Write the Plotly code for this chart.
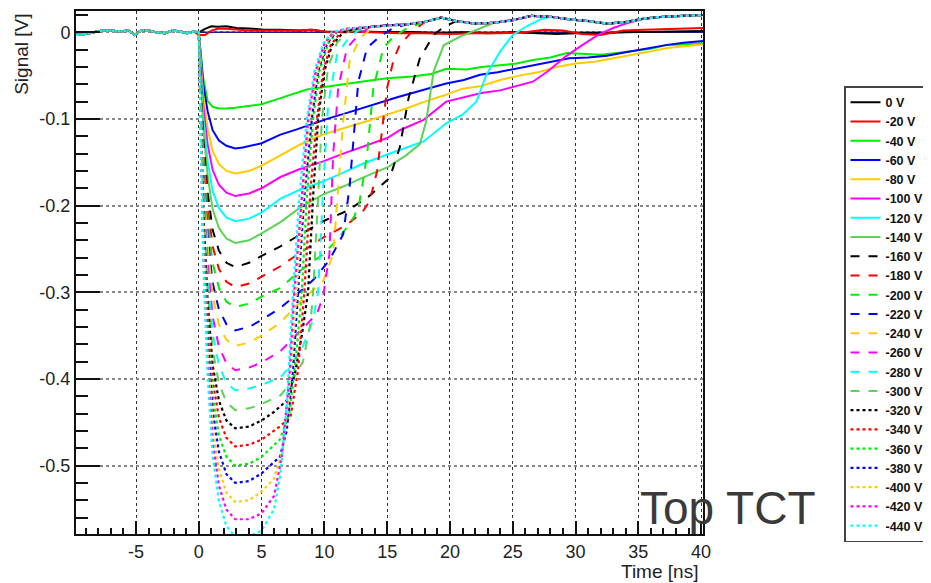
import plotly.graph_objects as go

# ---------------- data ----------------
LABELS = ["0 V", "-20 V", "-40 V", "-60 V", "-80 V", "-100 V", "-120 V", "-140 V",
          "-160 V", "-180 V", "-200 V", "-220 V", "-240 V", "-260 V", "-280 V", "-300 V",
          "-320 V", "-340 V", "-360 V", "-380 V", "-400 V", "-420 V", "-440 V"]

# common pre-trigger baseline
BASE_T = [-9.78, -9.1, -8.4, -7.7, -7.0, -6.3, -5.6, -5.1, -4.6, -4.0, -3.4, -2.7, -2.1, -1.5, -0.9, -0.4]
BASE_V = [-0.003, -0.002, 0.000, 0.002, 0.002, 0.001, 0.002, -0.003, 0.002, 0.002, 0.000, -0.001, 0.002, 0.001, -0.001, 0.001]

# common post-collection plateau of the fully depleted curves
TAIL_T = [12.0, 13.5, 15.0, 16.5, 18.0, 19.3, 20.5, 22.0, 23.5, 25.0, 26.5, 28.0, 29.5, 31.0, 32.5, 34.0, 35.5, 37.0, 38.5, 40.15]
TAIL_V = [0.004, 0.006, 0.008, 0.009, 0.012, 0.017, 0.013, 0.010, 0.011, 0.014, 0.019, 0.018, 0.015, 0.013, 0.010, 0.012, 0.016, 0.018, 0.019, 0.020]

# zero reference line
REF_T = [0.0, 40.15]
REF_V = [0.0, 0.0]

T_0 = [0, 0.5, 1.0, 1.5, 2.2, 3.0, 4.0, 5.2, 6.5, 8.0, 9.0, 10.0, 11.6, 13, 15, 17, 19, 21, 23, 25, 27, 28.5, 30, 32, 34, 36, 38, 40.15]
V_0 = [0.0, 0.004, 0.007, 0.0065, 0.007, 0.005, 0.0045, 0.003, 0.003, 0.002, 0.003, 0.001, 0.0, 0.001, 0.0, 0.0005, -0.001, 0.0, -0.001, 0.0, -0.001, -0.002, -0.001, -0.001, 0.0, 0.0005, 0.001, 0.0015]

T_M20 = [0, 0.5, 1.0, 1.5, 2.2, 3.0, 4.0, 5.8, 7.5, 9.0, 10.4, 12, 14, 16, 18, 20, 22, 24, 26, 27.5, 29, 30.5, 32, 33.8, 35.5, 37.5, 40.15]
V_M20 = [-0.003, -0.003, 0.002, 0.004, 0.004, 0.003, 0.002, 0.002, 0.002, 0.003, 0.0, 0.001, 0.0, -0.001, -0.001, -0.002, -0.001, -0.001, 0.0, 0.003, 0.002, -0.002, -0.003, 0.002, 0.003, 0.004, 0.005]

T_M40 = [0, 0.15, 0.35, 0.7, 1.1, 1.6, 2.2, 2.9, 4.0, 5.0, 6.5, 8.6, 10.0, 11.8, 13.5, 15.0, 17.0, 18.5, 19.7, 21.3, 22.5, 24.0, 25.3, 26.6, 28.0, 29.3, 30.5, 32.0, 33.3, 34.6, 36.0, 37.3, 38.6, 40.15]
V_M40 = [0.0, -0.026, -0.053, -0.079, -0.086, -0.088, -0.088, -0.087, -0.085, -0.083, -0.076, -0.066, -0.063, -0.059, -0.056, -0.053, -0.051, -0.048, -0.042, -0.043, -0.040, -0.038, -0.036, -0.032, -0.029, -0.024, -0.025, -0.026, -0.024, -0.022, -0.019, -0.0145, -0.014, -0.0125]

T_M60 = [0, 0.15, 0.35, 0.7, 1.1, 1.6, 2.2, 2.9, 3.5, 5.0, 6.5, 7.8, 9.0, 10.4, 11.8, 13.1, 14.5, 15.8, 17.0, 18.4, 19.7, 21.1, 22.4, 23.8, 25.3, 27.0, 28.5, 29.5, 31.0, 32.5, 34.0, 35.5, 37.3, 38.6, 40.15]
V_M60 = [0.0, -0.027, -0.060, -0.091, -0.113, -0.125, -0.131, -0.134, -0.133, -0.128, -0.118, -0.112, -0.106, -0.099, -0.093, -0.087, -0.081, -0.075, -0.070, -0.064, -0.059, -0.055, -0.049, -0.046, -0.042, -0.037, -0.033, -0.030, -0.029, -0.027, -0.023, -0.019, -0.0145, -0.012, -0.010]

T_M80 = [0, 0.15, 0.35, 0.7, 1.1, 1.6, 2.2, 2.9, 4.0, 5.0, 6.5, 8.0, 9.9, 11.8, 13.5, 15.0, 16.5, 18.0, 19.5, 21.0, 22.5, 24.0, 25.5, 27.0, 28.5, 30.0, 31.5, 33.0, 34.6, 36.0, 37.3, 38.6, 40.15]
V_M80 = [0.0, -0.033, -0.073, -0.111, -0.137, -0.152, -0.160, -0.163, -0.160, -0.154, -0.142, -0.130, -0.118, -0.110, -0.102, -0.095, -0.088, -0.080, -0.073, -0.065, -0.062, -0.055, -0.050, -0.046, -0.040, -0.036, -0.034, -0.030, -0.026, -0.022, -0.018, -0.016, -0.014]

T_M100 = [0, 0.15, 0.35, 0.7, 1.1, 1.6, 2.2, 2.9, 4.0, 5.0, 6.5, 8.0, 9.9, 11.5, 13.0, 15.0, 16.0, 17.9, 19.7, 21.0, 22.5, 24.0, 25.3, 26.6, 27.8, 29.2, 30.5, 31.8, 33.0, 34.0]
V_M100 = [0.0, -0.038, -0.085, -0.129, -0.159, -0.176, -0.185, -0.189, -0.186, -0.180, -0.167, -0.158, -0.149, -0.140, -0.132, -0.122, -0.113, -0.101, -0.080, -0.075, -0.070, -0.067, -0.062, -0.057, -0.045, -0.028, -0.015, -0.003, 0.005, 0.010]

T_M120 = [0, 0.15, 0.35, 0.7, 1.1, 1.6, 2.2, 2.9, 4.0, 5.0, 6.5, 8.0, 9.9, 11.5, 13.0, 15.0, 16.5, 17.9, 19.7, 21.0, 22.1, 22.9, 24.0, 25.0, 26.1, 27.2]
V_M120 = [0.0, -0.044, -0.098, -0.148, -0.183, -0.203, -0.214, -0.218, -0.215, -0.208, -0.192, -0.182, -0.172, -0.162, -0.152, -0.141, -0.133, -0.126, -0.105, -0.095, -0.080, -0.049, -0.022, -0.003, 0.007, 0.015]

T_M140 = [0, 0.15, 0.35, 0.7, 1.1, 1.6, 2.2, 2.9, 4.0, 5.0, 6.5, 8.0, 9.9, 11.5, 13.0, 15.0, 16.5, 17.6, 18.1, 18.7, 19.5, 20.8, 22.0]
V_M140 = [0.0, -0.049, -0.109, -0.165, -0.204, -0.226, -0.238, -0.243, -0.240, -0.232, -0.219, -0.203, -0.187, -0.178, -0.168, -0.156, -0.142, -0.129, -0.103, -0.045, -0.015, -0.005, 0.002]

T_M160 = [0, 0.15, 0.35, 0.7, 1.1, 1.6, 2.2, 2.9, 4.0, 5.0, 6.5, 8.0, 9.9, 11.8, 13.4, 15.2, 16.0, 16.7, 17.6, 18.7, 19.5]
V_M160 = [0.0, -0.054, -0.122, -0.184, -0.228, -0.252, -0.266, -0.271, -0.266, -0.258, -0.247, -0.234, -0.218, -0.206, -0.191, -0.168, -0.133, -0.076, -0.030, -0.003, 0.006]

T_M180 = [0, 0.15, 0.35, 0.7, 1.1, 1.6, 2.2, 2.9, 4.0, 5.0, 6.5, 8.0, 9.9, 11.8, 13.0, 13.6, 14.2, 14.6, 15.0, 15.5, 16.0, 17.0]
V_M180 = [0.0, -0.059, -0.132, -0.200, -0.247, -0.273, -0.288, -0.294, -0.290, -0.282, -0.270, -0.255, -0.237, -0.222, -0.208, -0.195, -0.160, -0.112, -0.064, -0.032, -0.0145, 0.001]

T_M200 = [0, 0.15, 0.35, 0.7, 1.1, 1.6, 2.2, 2.9, 4.0, 5.0, 6.5, 8.0, 9.9, 11.0, 11.8, 12.4, 12.8, 13.1, 13.4, 13.9, 14.7, 15.5, 16.5]
V_M200 = [0.0, -0.063, -0.143, -0.216, -0.266, -0.295, -0.311, -0.317, -0.313, -0.305, -0.295, -0.276, -0.256, -0.240, -0.225, -0.212, -0.195, -0.170, -0.141, -0.064, -0.018, -0.005, 0.004]

T_M220 = [0, 0.15, 0.35, 0.7, 1.1, 1.6, 2.2, 2.9, 4.0, 5.0, 6.5, 8.0, 9.1, 10.4, 11.5, 12.0, 12.3, 12.7, 13.4, 14.4, 15.5]
V_M220 = [0.0, -0.069, -0.155, -0.234, -0.289, -0.320, -0.337, -0.344, -0.340, -0.332, -0.318, -0.300, -0.286, -0.263, -0.233, -0.179, -0.122, -0.057, -0.018, -0.005, 0.005]

T_M240 = [0, 0.15, 0.35, 0.7, 1.1, 1.6, 2.2, 2.9, 4.0, 5.0, 6.5, 8.0, 9.9, 10.7, 11.1, 11.5, 12.0, 12.8, 13.8]
V_M240 = [0.0, -0.072, -0.163, -0.246, -0.304, -0.337, -0.355, -0.362, -0.358, -0.350, -0.335, -0.312, -0.287, -0.256, -0.179, -0.103, -0.034, -0.007, 0.005]

T_M260 = [0, 0.15, 0.35, 0.7, 1.1, 1.6, 2.2, 2.9, 4.0, 5.0, 6.5, 7.3, 8.5, 9.4, 9.9, 10.4, 10.7, 11.1, 11.8, 12.6, 13.5]
V_M260 = [0.0, -0.078, -0.176, -0.265, -0.328, -0.363, -0.382, -0.390, -0.387, -0.381, -0.368, -0.356, -0.338, -0.325, -0.305, -0.256, -0.141, -0.064, -0.018, -0.005, 0.005]

T_M280 = [0, 0.15, 0.35, 0.7, 1.1, 1.6, 2.2, 2.9, 4.0, 5.0, 6.5, 7.3, 8.3, 9.1, 9.5, 9.9, 10.3, 11.0, 12.0, 13.0]
V_M280 = [0.0, -0.083, -0.186, -0.281, -0.347, -0.384, -0.405, -0.413, -0.411, -0.407, -0.398, -0.385, -0.362, -0.332, -0.300, -0.180, -0.083, -0.026, -0.005, 0.005]

T_M300 = [0, 0.15, 0.35, 0.7, 1.1, 1.6, 2.2, 2.9, 4.0, 5.0, 6.5, 7.3, 8.3, 8.9, 9.1, 9.5, 9.8, 10.3, 11.0, 11.8, 12.8]
V_M300 = [0.0, -0.087, -0.196, -0.296, -0.366, -0.405, -0.427, -0.436, -0.434, -0.429, -0.419, -0.405, -0.380, -0.335, -0.300, -0.190, -0.100, -0.040, -0.012, 0.000, 0.005]

T_M320 = [0, 0.15, 0.35, 0.7, 1.1, 1.6, 2.2, 2.9, 4.0, 5.0, 6.0, 7.0, 7.65, 8.2, 8.7, 9.1, 9.5, 10.0, 10.6, 11.5, 12.5]
V_M320 = [0.0, -0.091, -0.206, -0.311, -0.384, -0.425, -0.448, -0.457, -0.455, -0.448, -0.438, -0.425, -0.394, -0.350, -0.300, -0.190, -0.100, -0.045, -0.015, 0.000, 0.004]

T_M340 = [0, 0.15, 0.35, 0.7, 1.1, 1.6, 2.2, 2.9, 4.0, 5.0, 6.45, 7.3, 7.9, 8.4, 8.9, 9.4, 9.9, 10.5, 11.3, 12.3]
V_M340 = [0.0, -0.096, -0.215, -0.325, -0.402, -0.445, -0.468, -0.478, -0.476, -0.470, -0.455, -0.444, -0.390, -0.300, -0.180, -0.100, -0.045, -0.015, 0.000, 0.004]

T_M360 = [0, 0.15, 0.35, 0.7, 1.1, 1.6, 2.2, 2.9, 4.0, 5.0, 6.45, 7.2, 7.7, 8.2, 8.6, 9.1, 9.6, 10.3, 11.0, 12.0]
V_M360 = [0.0, -0.100, -0.225, -0.340, -0.420, -0.465, -0.490, -0.500, -0.498, -0.490, -0.470, -0.440, -0.380, -0.300, -0.190, -0.100, -0.045, -0.013, 0.000, 0.004]

T_M380 = [0, 0.15, 0.35, 0.7, 1.1, 1.6, 2.2, 2.9, 4.0, 5.0, 6.45, 7.0, 7.5, 7.9, 8.4, 9.0, 9.5, 10.2, 10.9, 11.9]
V_M380 = [0.0, -0.104, -0.234, -0.354, -0.437, -0.484, -0.510, -0.520, -0.518, -0.509, -0.490, -0.460, -0.390, -0.300, -0.190, -0.100, -0.045, -0.013, 0.000, 0.004]

T_M400 = [0, 0.15, 0.35, 0.7, 1.1, 1.6, 2.2, 2.9, 4.0, 5.0, 6.0, 6.7, 7.3, 7.8, 8.3, 8.8, 9.4, 10.1, 10.8, 11.8]
V_M400 = [0.0, -0.108, -0.244, -0.369, -0.455, -0.504, -0.531, -0.542, -0.540, -0.530, -0.515, -0.480, -0.400, -0.300, -0.190, -0.100, -0.045, -0.013, 0.000, 0.004]

T_M420 = [0, 0.15, 0.35, 0.7, 1.1, 1.6, 2.2, 2.9, 4.0, 5.0, 6.0, 6.6, 7.2, 7.6, 8.2, 8.7, 9.3, 10.0, 10.7, 11.7]
V_M420 = [0.0, -0.112, -0.253, -0.382, -0.472, -0.523, -0.551, -0.562, -0.562, -0.555, -0.535, -0.490, -0.400, -0.300, -0.190, -0.100, -0.045, -0.013, 0.000, 0.004]

T_M440 = [0, 0.15, 0.35, 0.7, 1.1, 1.6, 2.2, 2.9, 4.0, 5.0, 6.0, 6.5, 7.0, 7.5, 8.0, 8.6, 9.2, 9.9, 10.6, 11.6]
V_M440 = [0.0, -0.116, -0.262, -0.396, -0.489, -0.541, -0.570, -0.582, -0.582, -0.575, -0.550, -0.510, -0.430, -0.300, -0.190, -0.100, -0.045, -0.013, 0.000, 0.004]

SERIES_T = [T_0, T_M20, T_M40, T_M60, T_M80, T_M100, T_M120, T_M140, T_M160, T_M180, T_M200, T_M220,
            T_M240, T_M260, T_M280, T_M300, T_M320, T_M340, T_M360, T_M380, T_M400, T_M420, T_M440]
SERIES_V = [V_0, V_M20, V_M40, V_M60, V_M80, V_M100, V_M120, V_M140, V_M160, V_M180, V_M200, V_M220,
            V_M240, V_M260, V_M280, V_M300, V_M320, V_M340, V_M360, V_M380, V_M400, V_M420, V_M440]
# which curves continue into the common plateau
USES_TAIL = [False, False, False, False, False] + [True] * 18

X_TICKS = [-5, 0, 5, 10, 15, 20, 25, 30, 35, 40]
X_TICK_TEXT = ["-5", "0", "5", "10", "15", "20", "25", "30", "35", "40"]
Y_TICKS = [0, -0.1, -0.2, -0.3, -0.4, -0.5]
Y_TICK_TEXT = ["0", "-0.1", "-0.2", "-0.3", "-0.4", "-0.5"]

# ---------------- styles ----------------
PALETTE = ["#000000", "#ff0000", "#00ee00", "#0000ff", "#ffcc00", "#ff00ff", "#00ffff", "#59d454"]
FONT = "Liberation Sans, Arial, Helvetica, sans-serif"

# the page has an 8 px body margin: the figure is drawn 8 px smaller and shifted
W, H = 923, 575

fig = go.Figure()
fig.add_trace(go.Scatter(x=REF_T, y=REF_V, mode="lines", showlegend=False, hoverinfo="skip",
                         line=dict(color="#1c1c8a", width=1.6)))

for i, (lab, ts, vs, tail) in enumerate(zip(LABELS, SERIES_T, SERIES_V, USES_TAIL)):
    assert len(ts) == len(vs), lab
    x = BASE_T + ts
    y = BASE_V + vs
    if tail:
        for tt, vv in zip(TAIL_T, TAIL_V):
            if tt > ts[-1] + 0.6:
                x.append(tt)
                y.append(vv)
    dash = "solid" if i < 8 else ("dash" if i < 16 else "dot")
    width = 2.0 if dash != "dot" else 2.2
    fig.add_trace(go.Scatter(x=x, y=y, mode="lines", name=lab,
                             line=dict(color=PALETTE[i % 8], width=width, dash=dash)))

axis_common = dict(showline=True, linecolor="#111111", linewidth=2, mirror=True,
                   zeroline=False, ticks="inside", tickcolor="#111111", tickwidth=1.5,
                   tickfont=dict(family=FONT, size=18, color="#222222"), showgrid=True)

fig.update_xaxes(range=[-9.78, 40.15], tickmode="array", tickvals=X_TICKS, ticktext=X_TICK_TEXT,
                 ticklen=13, gridcolor="#333333", griddash="dot", gridwidth=1,
                 minor=dict(dtick=1, tick0=0, ticks="inside", ticklen=6, tickcolor="#111111",
                            tickwidth=1.5, showgrid=False),
                 **axis_common)
fig.update_yaxes(range=[-0.579, 0.0246], tickmode="array", tickvals=Y_TICKS, ticktext=Y_TICK_TEXT,
                 ticklen=24, gridcolor="#888888", griddash="dot", gridwidth=1.5,
                 minor=dict(dtick=0.02, tick0=0, ticks="inside", ticklen=12, tickcolor="#111111",
                            tickwidth=1.5, showgrid=False),
                 **axis_common)

fig.update_layout(
    width=W, height=H,
    margin=dict(l=68, r=228, t=1, b=49),
    paper_bgcolor="white", plot_bgcolor="white",
    font=dict(family=FONT, color="#222222"),
    legend=dict(xref="container", yref="container", x=(844 - 8) / W, y=1 - (86 - 8) / H,
                xanchor="left", yanchor="top", bgcolor="white", bordercolor="#444444",
                borderwidth=1.5, itemwidth=30, tracegroupgap=0, maxheight=520,
                font=dict(family=FONT, size=12.5, color="#111111", weight="bold")),
    annotations=[
        dict(text="Signal [V]", xref="paper", yref="paper", x=(22 - 76) / 627, y=(534 - 53) / 525,
             xanchor="center", yanchor="middle", textangle=-90, showarrow=False,
             font=dict(family=FONT, size=19, color="#222222")),
        dict(text="Time [ns]", xref="paper", yref="paper", x=(700 - 76) / 627, y=(534 - 572) / 525,
             xanchor="right", yanchor="middle", showarrow=False,
             font=dict(family=FONT, size=19, color="#222222")),
        dict(text="Top TCT", xref="paper", yref="paper", x=(638 - 76) / 627, y=(534 - 508) / 525,
             xanchor="left", yanchor="middle", showarrow=False,
             font=dict(family=FONT, size=46, color="#3a3a3a")),
    ],
)

fig.write_html("out.html")
